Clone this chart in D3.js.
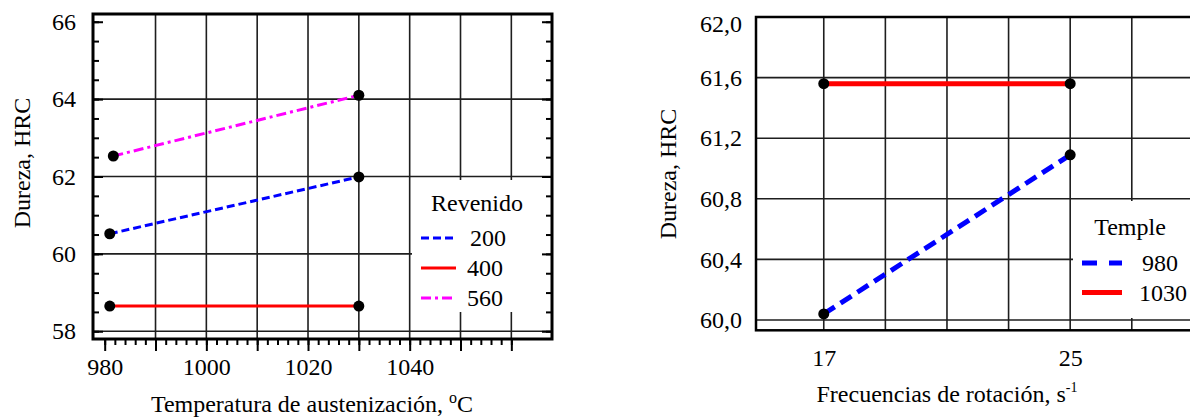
<!DOCTYPE html>
<html>
<head>
<meta charset="utf-8">
<script src="https://cdn.jsdelivr.net/npm/d3@7"></script>
<style>
  html, body { margin: 0; padding: 0; background: #ffffff; }
  svg { display: block; }
  svg text { font-family: "Liberation Serif", "Times New Roman", serif; }
</style>
</head>
<body>
<svg id="chart" width="1190" height="419"></svg>
<script>
// left panel: hardness vs austenitizing temperature
const austenTemps = [981, 1030];
const austenTemps560 = [981.7, 1030];
const revenidoLabels = ["200", "400", "560"];
const hardness200 = [60.52, 61.99];
const hardness400 = [58.65, 58.65];
const hardness560 = [62.53, 64.1];
const tempTickLabels = [980, 1000, 1020, 1040];
const hardnessTicksLeft = [58, 60, 62, 64, 66];

// right panel: hardness vs rotation frequency
const rotationFreqs = [17, 25];
const templeLabels = ["980", "1030"];
const hardnessTemple980 = [60.04, 61.09];
const hardnessTemple1030 = [61.56, 61.56];
const rotationTickLabels = [17, 25];
const hardnessTicksRight = [60.0, 60.4, 60.8, 61.2, 61.6, 62.0];

const serif = '"Liberation Serif", "Times New Roman", serif';
const gridColor = "#1e1e1e";
const fontSize = 24;

const svg = d3.select("#chart");

const commaFormat = d3.formatLocale({
  decimal: ",",
  thousands: ".",
  grouping: [3],
  currency: ["", ""],
}).format(".1f");

const styleAxis = (g) => {
  g.select(".domain").remove();
  g.attr("font-size", fontSize);
  g.selectAll("text")
    .attr("fill", "#000")
    .style("font-family", serif)
    .style("font-size", `${fontSize}px`);
  g.selectAll("line").attr("stroke", "#000").attr("stroke-width", 2);
};

const zip = (xs, ys) => xs.map((x, i) => [x, ys[i]]);

/* ---------------- left panel ---------------- */

const xL = d3.scaleLinear().domain([977.7, 1068]).range([93, 552]);
const yL = d3.scaleLinear().domain([57.8, 66.2]).range([339, 14]);

const left = svg.append("g");

left
  .selectAll(".vgrid")
  .data(d3.range(990, 1061, 10))
  .enter()
  .append("line")
  .attr("x1", (d) => xL(d))
  .attr("x2", (d) => xL(d))
  .attr("y1", yL.range()[1])
  .attr("y2", yL.range()[0])
  .attr("stroke", gridColor)
  .attr("stroke-width", 1.6);

left
  .selectAll(".hgrid")
  .data(hardnessTicksLeft.slice(0, -1))
  .enter()
  .append("line")
  .attr("x1", xL.range()[0])
  .attr("x2", xL.range()[1])
  .attr("y1", (d) => yL(d))
  .attr("y2", (d) => yL(d))
  .attr("stroke", gridColor)
  .attr("stroke-width", 1.6);

// legend background hides the grid behind it
left
  .append("rect")
  .attr("x", 412)
  .attr("y", 180)
  .attr("width", xL.range()[1] - 412)
  .attr("height", 132)
  .attr("fill", "#fff");

left
  .append("rect")
  .attr("x", xL.range()[0])
  .attr("y", yL.range()[1])
  .attr("width", xL.range()[1] - xL.range()[0])
  .attr("height", yL.range()[0] - yL.range()[1])
  .attr("fill", "none")
  .attr("stroke", "#000")
  .attr("stroke-width", 3);

// inner ticks on both vertical borders, outer ticks below
[
  [d3.range(58, 66.01, 0.5), 6],
  [d3.range(58, 66.01, 2), 10],
].forEach(([values, size]) => {
  left
    .append("g")
    .attr("transform", `translate(${xL.range()[0]},0)`)
    .call(d3.axisRight(yL).tickValues(values).tickSize(size).tickFormat(""))
    .call(styleAxis);
  left
    .append("g")
    .attr("transform", `translate(${xL.range()[1]},0)`)
    .call(d3.axisLeft(yL).tickValues(values).tickSize(size).tickFormat(""))
    .call(styleAxis);
});

[
  [d3.range(980, 1061, 2), 6],
  [d3.range(980, 1061, 10), 12],
].forEach(([values, size]) => {
  left
    .append("g")
    .attr("transform", `translate(0,${yL.range()[0]})`)
    .call(d3.axisBottom(xL).tickValues(values).tickSize(size).tickFormat(""))
    .call(styleAxis);
});

left
  .append("g")
  .attr("transform", `translate(${xL.range()[0]},0)`)
  .call(d3.axisLeft(yL).tickValues(hardnessTicksLeft).tickSize(0).tickPadding(17).tickFormat(d3.format("d")))
  .call(styleAxis);

left
  .append("g")
  .attr("transform", `translate(0,${yL.range()[0]})`)
  .call(d3.axisBottom(xL).tickValues(tempTickLabels).tickSize(0).tickPadding(19).tickFormat(d3.format("d")))
  .call(styleAxis);

const seriesL = [
  { name: revenidoLabels[0], pts: zip(austenTemps, hardness200), color: "#0000ff", dash: "8,4" },
  { name: revenidoLabels[1], pts: zip(austenTemps, hardness400), color: "#ff0000", dash: null },
  { name: revenidoLabels[2], pts: zip(austenTemps560, hardness560), color: "#ff00ff", dash: "10,4,3,4" },
];

const lineL = d3.line().x((d) => xL(d[0])).y((d) => yL(d[1]));

left
  .selectAll(".series")
  .data(seriesL)
  .enter()
  .append("path")
  .attr("d", (d) => lineL(d.pts))
  .attr("fill", "none")
  .attr("stroke", (d) => d.color)
  .attr("stroke-width", 3)
  .attr("stroke-dasharray", (d) => d.dash);

left
  .selectAll(".pt")
  .data(seriesL.flatMap((s) => s.pts))
  .enter()
  .append("circle")
  .attr("cx", (d) => xL(d[0]))
  .attr("cy", (d) => yL(d[1]))
  .attr("r", 5.5)
  .attr("fill", "#000");

const legendL = left.append("g").attr("font-size", fontSize);

legendL
  .append("text")
  .attr("x", 477)
  .attr("y", 211)
  .attr("text-anchor", "middle")
  .text("Revenido");

seriesL.forEach((s, i) => {
  const ly = 238 + i * 30;
  legendL
    .append("line")
    .attr("x1", 421)
    .attr("x2", 456)
    .attr("y1", ly)
    .attr("y2", ly)
    .attr("stroke", s.color)
    .attr("stroke-width", 3)
    .attr("stroke-dasharray", s.dash);
  legendL
    .append("text")
    .attr("x", i === 0 ? 470 : 467)
    .attr("y", ly + 8)
    .text(s.name);
});

left
  .append("text")
  .attr("transform", "translate(30,163) rotate(-90)")
  .attr("text-anchor", "middle")
  .attr("font-size", fontSize)
  .text("Dureza, HRC");

const titleL = left
  .append("text")
  .attr("x", 312)
  .attr("y", 412)
  .attr("text-anchor", "middle")
  .attr("font-size", fontSize)
  .text("Temperatura de austenización, ");
titleL.append("tspan").attr("font-size", 16).attr("dy", -9).text("o");
titleL.append("tspan").attr("dy", 9).text("C");

/* ---------------- right panel ---------------- */

const xR = d3.scaleLinear().domain([14.8, 31]).range([756, 1255]);
const yR = d3.scaleLinear().domain([59.932, 62.0]).range([330.3, 17]);

const right = svg.append("g");

right
  .selectAll(".vgrid")
  .data(d3.range(17, 30, 2))
  .enter()
  .append("line")
  .attr("x1", (d) => xR(d))
  .attr("x2", (d) => xR(d))
  .attr("y1", yR.range()[1])
  .attr("y2", yR.range()[0])
  .attr("stroke", gridColor)
  .attr("stroke-width", 1.6);

right
  .selectAll(".hgrid")
  .data(hardnessTicksRight.slice(0, -1))
  .enter()
  .append("line")
  .attr("x1", xR.range()[0])
  .attr("x2", xR.range()[1])
  .attr("y1", (d) => yR(d))
  .attr("y2", (d) => yR(d))
  .attr("stroke", gridColor)
  .attr("stroke-width", 1.6);

right
  .append("rect")
  .attr("x", 1073)
  .attr("y", 201)
  .attr("width", 200)
  .attr("height", 117)
  .attr("fill", "#fff");

right
  .append("rect")
  .attr("x", xR.range()[0])
  .attr("y", yR.range()[1])
  .attr("width", xR.range()[1] - xR.range()[0])
  .attr("height", yR.range()[0] - yR.range()[1])
  .attr("fill", "none")
  .attr("stroke", "#000")
  .attr("stroke-width", 2.5);

right
  .append("g")
  .attr("transform", `translate(${xR.range()[0]},0)`)
  .call(d3.axisLeft(yR).tickValues(hardnessTicksRight).tickSize(0).tickPadding(14).tickFormat(commaFormat))
  .call(styleAxis)
  .call((g) => g.selectAll(".tick text").filter((d) => d === 62.0).attr("dy", "0.6em"));

right
  .append("g")
  .attr("transform", `translate(0,${yR.range()[0]})`)
  .call(d3.axisBottom(xR).tickValues(rotationTickLabels).tickSize(0).tickPadding(19).tickFormat(d3.format("d")))
  .call(styleAxis);

const seriesR = [
  { name: templeLabels[0], pts: zip(rotationFreqs, hardnessTemple980), color: "#0000ff", dash: "13,7" },
  { name: templeLabels[1], pts: zip(rotationFreqs, hardnessTemple1030), color: "#ff0000", dash: null },
];

const lineR = d3.line().x((d) => xR(d[0])).y((d) => yR(d[1]));

right
  .selectAll(".series")
  .data(seriesR)
  .enter()
  .append("path")
  .attr("d", (d) => lineR(d.pts))
  .attr("fill", "none")
  .attr("stroke", (d) => d.color)
  .attr("stroke-width", 5)
  .attr("stroke-dasharray", (d) => d.dash);

right
  .selectAll(".pt")
  .data(seriesR.flatMap((s) => s.pts))
  .enter()
  .append("circle")
  .attr("cx", (d) => xR(d[0]))
  .attr("cy", (d) => yR(d[1]))
  .attr("r", 5.5)
  .attr("fill", "#000");

const legendR = right.append("g").attr("font-size", fontSize);

legendR
  .append("text")
  .attr("x", 1130)
  .attr("y", 235)
  .attr("text-anchor", "middle")
  .text("Temple");

seriesR.forEach((s, i) => {
  const ly = 263 + i * 29.5;
  legendR
    .append("line")
    .attr("x1", 1082)
    .attr("x2", 1122)
    .attr("y1", ly)
    .attr("y2", ly)
    .attr("stroke", s.color)
    .attr("stroke-width", 5)
    .attr("stroke-dasharray", s.dash ? "15,12" : null);
  legendR
    .append("text")
    .attr("x", i === 0 ? 1142 : 1139)
    .attr("y", ly + 8)
    .text(s.name);
});

right
  .append("text")
  .attr("transform", "translate(676,174) rotate(-90)")
  .attr("text-anchor", "middle")
  .attr("font-size", fontSize)
  .text("Dureza, HRC");

const titleR = right
  .append("text")
  .attr("x", xR(21))
  .attr("y", 402)
  .attr("text-anchor", "middle")
  .attr("font-size", fontSize)
  .text("Frecuencias de rotación, s");
titleR.append("tspan").attr("font-size", 14).attr("dy", -10).text("-1");
</script>
</body>
</html>
